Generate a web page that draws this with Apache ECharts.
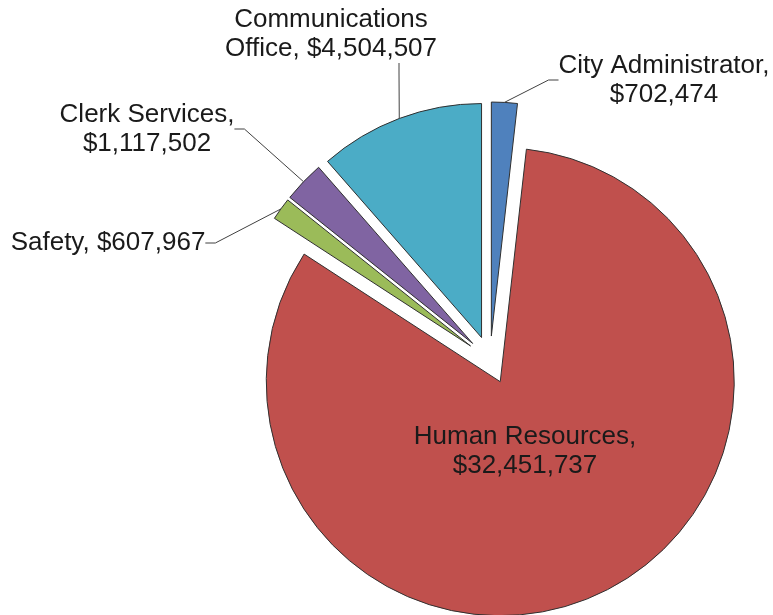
<!DOCTYPE html>
<html>
<head>
<meta charset="utf-8">
<script src="https://cdn.jsdelivr.net/npm/echarts@6/dist/echarts.min.js"></script>
<style>
  html,body{margin:0;padding:0;background:#fff;}
  #chart{width:773px;height:615px;}
</style>
</head>
<body>
<div id="chart"></div>
<script>
// 各部门预算
var deptNames = ['City Administrator', 'Human Resources', 'Safety', 'Clerk Services', 'Communications Office'];
var deptValues = [702474, 32451737, 607967, 1117502, 4504507];
var deptColors = ['#4F81BD', '#C0504D', '#9BBB59', '#8064A2', '#4BACC6'];
// 标签中心位置(原图手动摆放)
var labelSpots = [[664, 80], [525, 451], [108, 243], [147, 129], [399, 34]];

var pieR = 234, explode = 24;
var fontCfg = { fontFamily: 'Liberation Sans, Arial, sans-serif', fontSize: 26, lineHeight: 29, color: '#1a1a1a' };

function money(v) {
    return '$' + String(v).replace(/\B(?=(\d{3})+(?!\d))/g, ',');
}

//饼块(全部分离)
var pieData = [];
//标签层
var labelData = [];
for (var i = 0; i < deptNames.length; i++) {
    pieData.push({
        name: deptNames[i],
        value: deptValues[i],
        selected: true,
        itemStyle: { color: deptColors[i] }
    });
    var lab = { name: deptNames[i], value: deptValues[i] };
    if (i == 1) {
        lab.labelLine = { show: false };
    }
    if (i == 4) {
        //右侧留白, 让引线从文字下方竖直引出
        lab.label = { padding: [0, 136, 0, 0], backgroundColor: 'transparent' };
    }
    labelData.push(lab);
}

var chart = echarts.init(document.getElementById('chart'));
var option = {
    animation: false,
    series: [{
        type: 'pie',
        center: [490, 360],
        radius: pieR,
        startAngle: 90,
        clockwise: true,
        selectedMode: 'multiple',
        selectedOffset: explode,
        silent: true,
        itemStyle: { borderColor: '#303030', borderWidth: 1 },
        select: { itemStyle: { borderColor: '#303030', borderWidth: 1 } },
        label: { show: false },
        labelLine: { show: false },
        data: pieData
    }, {
        type: 'pie',
        z: 3,
        center: [490, 360],
        radius: pieR + explode,
        startAngle: 90,
        clockwise: true,
        selectedMode: false,
        silent: true,
        avoidLabelOverlap: false,
        itemStyle: { color: 'rgba(0,0,0,0)', borderWidth: 0 },
        label: {
            show: true,
            position: 'outside',
            color: fontCfg.color,
            fontFamily: fontCfg.fontFamily,
            fontSize: fontCfg.fontSize,
            lineHeight: fontCfg.lineHeight,
            formatter: function (p) {
                var lines;
                if (p.name == 'Communications Office') lines = ['Communications', 'Office, ' + money(p.value)];
                else if (p.name == 'Safety') lines = [p.name + ', ' + money(p.value)];
                else lines = [p.name + ',', money(p.value)];
                return lines.map(function (t) { return '{c|' + t + '}'; }).join('\n');
            },
            rich: {
                c: {
                    align: 'center',
                    color: fontCfg.color,
                    fontFamily: fontCfg.fontFamily,
                    fontSize: fontCfg.fontSize,
                    lineHeight: fontCfg.lineHeight
                }
            }
        },
        labelLine: {
            show: true,
            length: 20,
            length2: 10,
            lineStyle: { color: '#404040', width: 1 }
        },
        labelLayout: function (p) {
            var s = labelSpots[p.dataIndex];
            return { x: s[0], y: s[1], align: 'center', verticalAlign: 'middle' };
        },
        data: labelData
    }]
};
chart.setOption(option);
</script>
</body>
</html>
